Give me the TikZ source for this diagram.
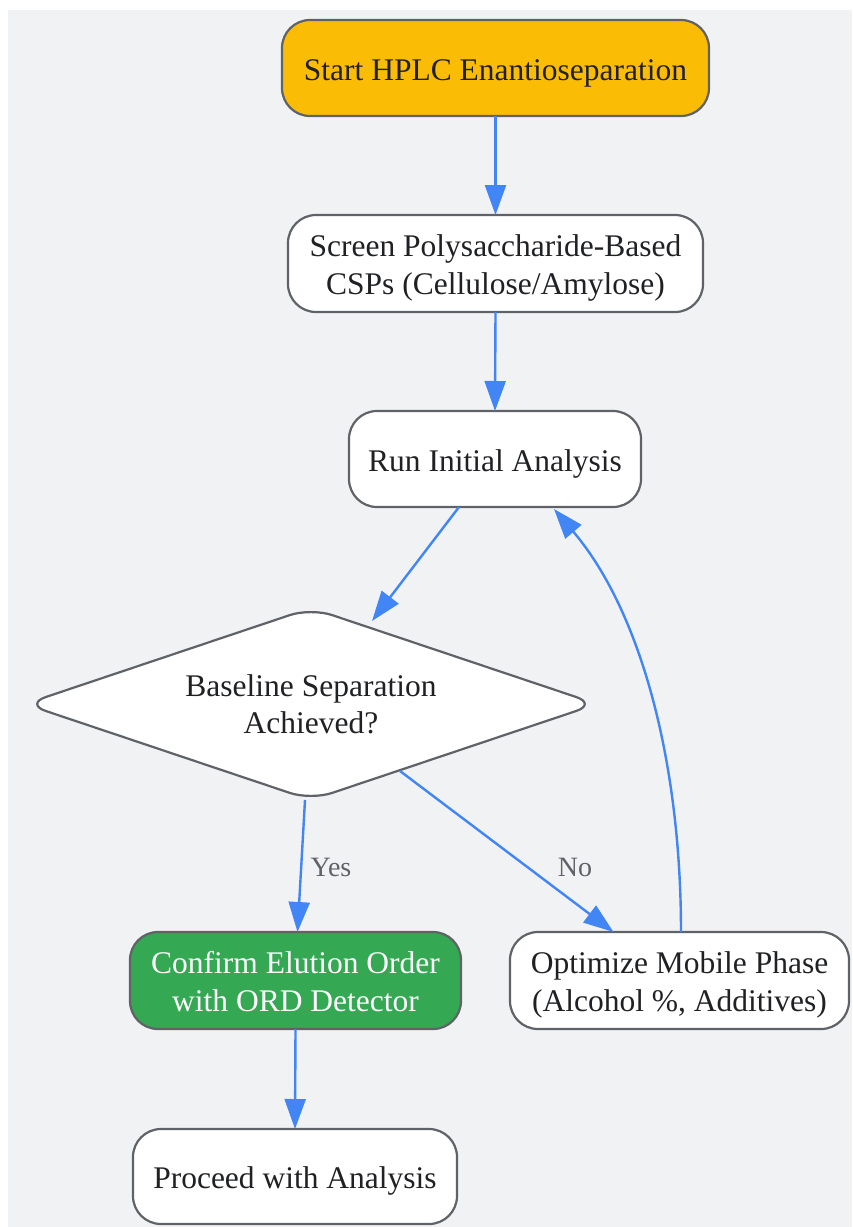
\documentclass[tikz,border=0pt]{standalone}
\usepackage{fontspec}
\setmainfont{Liberation Serif}
\usetikzlibrary{shapes.geometric,arrows.meta,calc}
\definecolor{bg}{HTML}{F1F2F4}
\definecolor{edgec}{HTML}{5F6368}
\definecolor{arrc}{HTML}{4285F4}
\definecolor{startc}{HTML}{FBBC05}
\definecolor{greenc}{HTML}{34A853}
\definecolor{txt}{HTML}{202124}
\newcommand{\dnlines}[1]{\raisebox{0pt}[\dimexpr\height+9pt\relax][\depth]{\begin{tabular}{@{}c@{}}#1\end{tabular}}}
\begin{document}
\begin{tikzpicture}[x=1pt,y=-1pt,
  box/.style={draw=edgec, line width=2.2pt, rounded corners=28pt, fill=white,
    align=center, text=txt, inner sep=0pt, outer sep=0pt,
    font=\fontsize{31.5}{38}\selectfont},
  dec/.style={draw=edgec, line width=2.2pt, diamond, aspect=2.98, rounded corners=22pt,
    fill=white, align=center, text=txt, inner sep=0pt, outer sep=0pt,
    minimum width=572pt, minimum height=192pt, font=\fontsize{31.5}{37}\selectfont},
  arr/.style={draw=arrc, line width=2.4pt, -{Triangle[length=30pt,width=21pt]}},
  lbl/.style={text=edgec, font=\fontsize{28}{32}\selectfont, inner sep=0pt}
]
\useasboundingbox (0,0) rectangle (852,1227);
\fill[bg] (8,10) rectangle (852,1227);

\node[box, fill=startc, minimum width=427pt, minimum height=96pt] (start) at (495.5,68) {\dnlines{Start HPLC Enantioseparation}};
\node[box, minimum width=415pt, minimum height=97pt] (screen) at (495.5,263.5) {\dnlines{Screen Polysaccharide-Based\\CSPs (Cellulose/Amylose)}};
\node[box, minimum width=292pt, minimum height=96pt] (run) at (495,459) {\dnlines{Run Initial Analysis}};
\node[dec] (dia) at (311,704) {Baseline Separation\\Achieved?};
\node[box, fill=greenc, text=white, minimum width=331pt, minimum height=97pt] (confirm) at (295.5,980.5) {\dnlines{Confirm Elution Order\\with ORD Detector}};
\node[box, minimum width=339pt, minimum height=97pt] (opt) at (679.5,980.5) {\dnlines{Optimize Mobile Phase\\(Alcohol \%, Additives)}};
\node[box, minimum width=324pt, minimum height=95pt] (proc) at (295,1176.5) {\dnlines{Proceed with Analysis}};

\draw[arr] (start.south) -- (screen.north);
\draw[arr] (screen.south) -- (run.north);
\draw[arr] ([xshift=-36pt]run.south) -- ([xshift=61pt,yshift=-13pt]dia.north);
\draw[arr] ([xshift=-6pt]dia.south) -- ([xshift=2pt]confirm.north);
\node[lbl] (yes) at (331,867) {Yes};
\draw[arr] ([xshift=89pt,yshift=29pt]dia.south) -- ([xshift=-66pt]opt.north);
\node[lbl] (no) at (575,867) {No};
\draw[arr] ([xshift=1.5pt]opt.north) .. controls ([xshift=1.5pt,yshift=172pt]opt.north) and ([xshift=145pt,yshift=-103pt]run.south) .. ([xshift=59pt,yshift=-2pt]run.south);
\draw[arr] (confirm.south) -- (proc.north);
\end{tikzpicture}
\end{document}
